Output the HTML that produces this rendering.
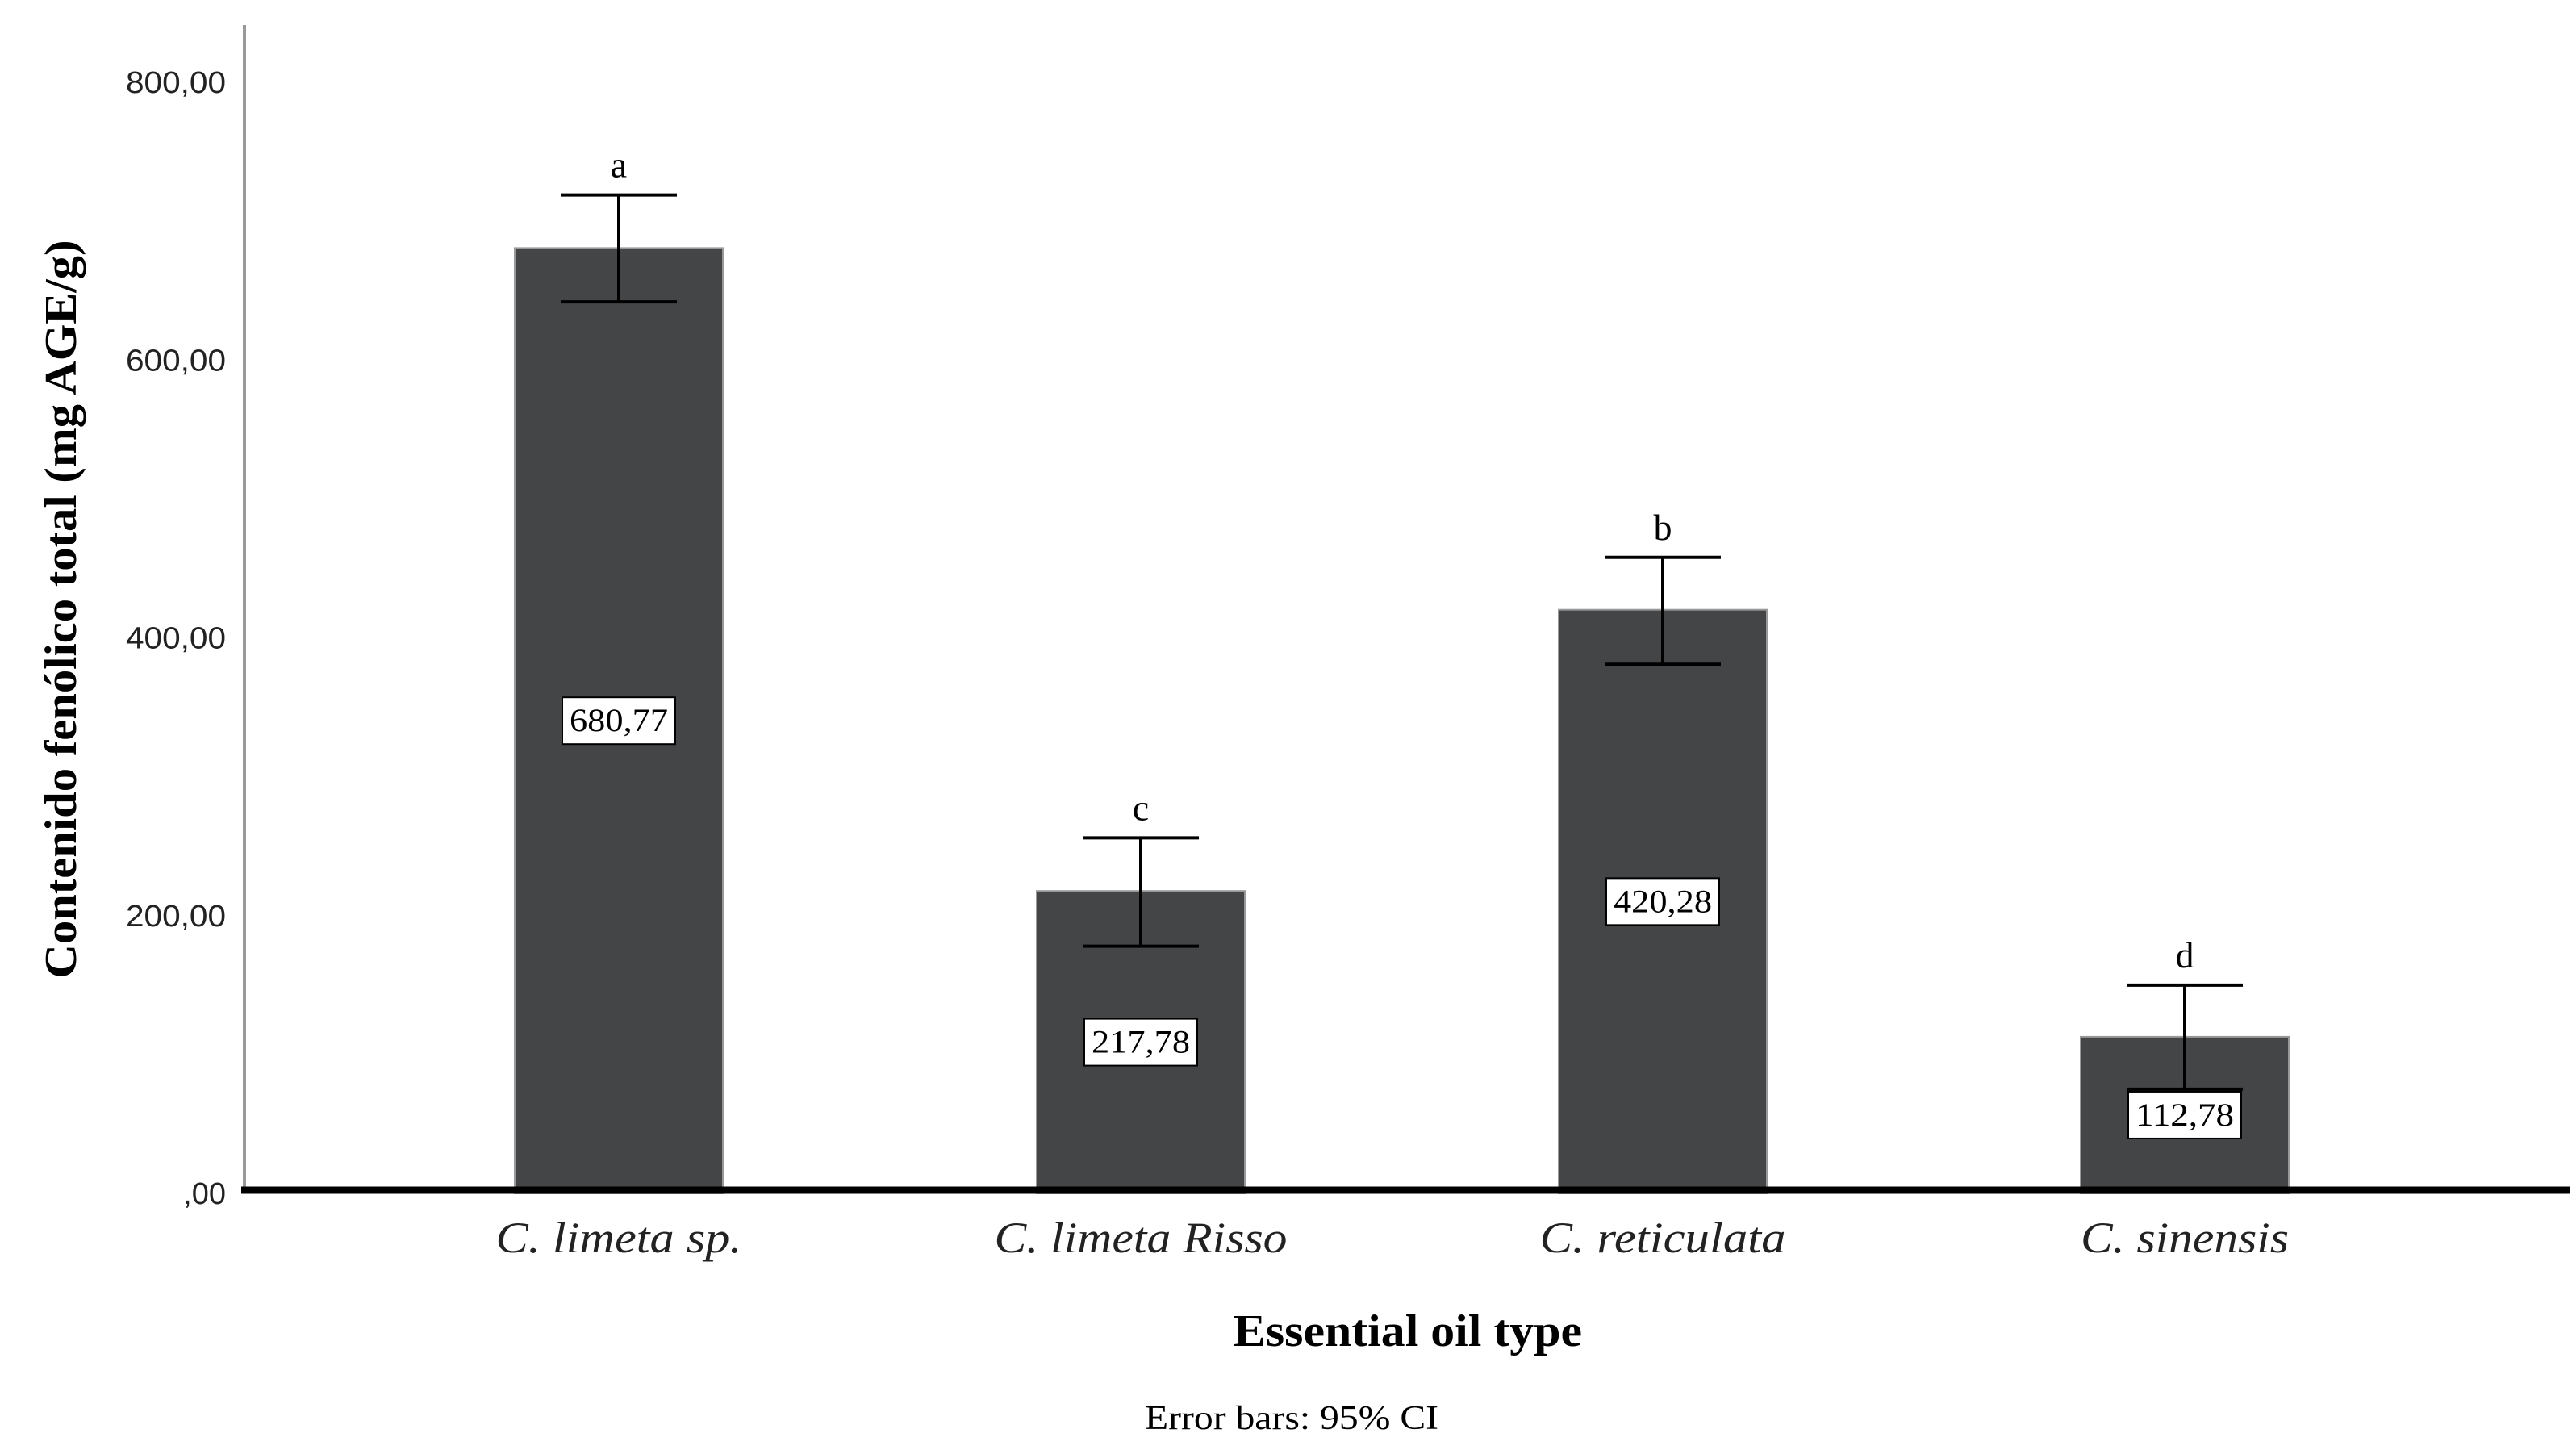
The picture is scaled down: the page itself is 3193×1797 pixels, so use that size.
<!DOCTYPE html>
<html><head><meta charset="utf-8"><style>html,body{margin:0;padding:0;background:#fff}svg{display:block}</style></head>
<body>
<svg id="chart" width="3193" height="1797" xmlns="http://www.w3.org/2000/svg">
<g id="g"></g>
</svg>
<script>
const categories = ["C. limeta sp.", "C. limeta Risso", "C. reticulata", "C. sinensis"];
const values = [680.77, 217.78, 420.28, 112.78];
const ciHigh = [719, 256, 458, 150];
const ciLow = [642, 178, 381, 75];
const letters = ["a", "c", "b", "d"];
const valueLabels = ["680,77", "217,78", "420,28", "112,78"];
const ticks = [0, 200, 400, 600, 800];
const tickLabels = [",00", "200,00", "400,00", "600,00", "800,00"];
const catLen = [305, 363, 305, 258];

const NS = "http://www.w3.org/2000/svg";
const g = document.getElementById("g");
const y0 = 1479, pxPer = 1.721;
const yScale = v => y0 - v * pxPer;
const xScale = i => 767 + i * 647;
function mk(tag, attrs, text) {
  const e = document.createElementNS(NS, tag);
  for (const k in attrs) e.setAttribute(k, attrs[k]);
  if (text !== undefined) e.textContent = text;
  g.appendChild(e);
  return e;
}
// y axis
let e = mk("line", {x1: 303, y1: 31, x2: 303, y2: y0, stroke: "#999", "stroke-width": 4});


ticks.forEach((t, i) => {
  const attrs = {x: 280, y: yScale(t) + 13, "text-anchor": "end", "font-family": "Liberation Sans, sans-serif", "font-size": 38, fill: "#222"};
  if (tickLabels[i].length === 6) { attrs.textLength = 124; attrs.lengthAdjust = "spacingAndGlyphs"; }
  const el = mk("text", attrs, tickLabels[i]);
  
  
});
// bars
const bw = 258;
values.forEach((v, i) => {
  const cx = xScale(i);
  const b = mk("rect", {x: cx - bw/2, y: yScale(v), width: bw, height: y0 - yScale(v), fill: "#444547", stroke: "#999", "stroke-width": 2});
  
  
  const eb = mk("path", {d: `M${cx-72},${yScale(ciHigh[i])}H${cx+72}M${cx},${yScale(ciHigh[i])}V${yScale(ciLow[i])}M${cx-72},${yScale(ciLow[i])}H${cx+72}`, stroke: "#000", "stroke-width": 4, fill: "none"});
  
  
  const lt = mk("text", {x: cx, y: yScale(ciHigh[i]) - 22, "text-anchor": "middle", "font-family": "Liberation Serif, serif", "font-size": 46, fill: "#000"}, letters[i]);
  
  
  const my = yScale(v / 2);
  const box = mk("rect", {x: cx - 70, y: my - 29, width: 140, height: 58, fill: "#fff", stroke: "#000", "stroke-width": 2});
  
  
  const vt = mk("text", {x: cx, y: my + 13, "text-anchor": "middle", "font-family": "Liberation Serif, serif", "font-size": 40, fill: "#000", textLength: 122, lengthAdjust: "spacingAndGlyphs"}, valueLabels[i]);
  
  
  const ct = mk("text", {x: cx, y: 1552, "text-anchor": "middle", "font-family": "Liberation Serif, serif", "font-style": "italic", "font-size": 54, fill: "#222", textLength: catLen[i], lengthAdjust: "spacingAndGlyphs"}, categories[i]);
  
  
});
// x axis
e = mk("line", {x1: 299, y1: y0 - 4, x2: 3185, y2: y0 - 4, stroke: "#000", "stroke-width": 9});


e = mk("text", {x: 1745, y: 1668, "text-anchor": "middle", "font-family": "Liberation Serif, serif", "font-weight": "bold", "font-size": 56, fill: "#000", textLength: 432, lengthAdjust: "spacingAndGlyphs"}, "Essential oil type");


e = mk("text", {x: 1601, y: 1771, "text-anchor": "middle", "font-family": "Liberation Serif, serif", "font-size": 42, fill: "#000", textLength: 364, lengthAdjust: "spacingAndGlyphs"}, "Error bars: 95% CI");


e = mk("text", {x: 0, y: 0, "text-anchor": "middle", "font-family": "Liberation Serif, serif", "font-weight": "bold", "font-size": 56, fill: "#000", textLength: 915, lengthAdjust: "spacingAndGlyphs", transform: "translate(94,755) rotate(-90)"}, "Contenido fenólico total (mg AGE/g)");


</script>
</body></html>
